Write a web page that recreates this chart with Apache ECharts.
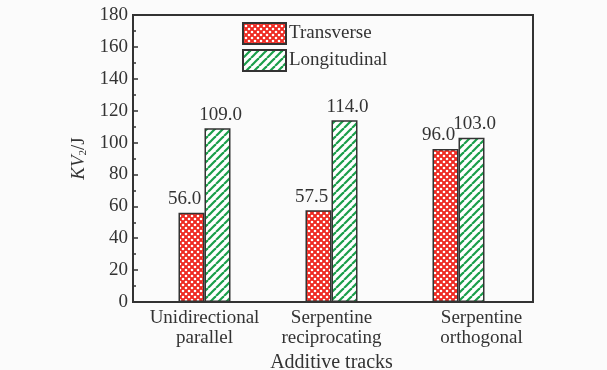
<!DOCTYPE html>
<html>
<head>
<meta charset="utf-8">
<script src="https://cdn.jsdelivr.net/npm/echarts@6/dist/echarts.min.js"></script>
<style>html,body{margin:0;padding:0;background:#fbfbfb;}#c{width:607px;height:370px;}</style>
</head>
<body>
<div id="c"></div>
<script>
var categories = ['Unidirectional\nparallel', 'Serpentine\nreciprocating', 'Serpentine\northogonal'];
var transverse = [56.0, 57.5, 96.0];
var longitudinal = [109.0, 114.0, 103.0];
var yTicks = [0, 20, 40, 60, 80, 100, 120, 140, 160, 180];

function redPattern() {
  var c = document.createElement('canvas');
  c.width = 6; c.height = 6;
  var g = c.getContext('2d');
  g.fillStyle = '#ee2a22'; g.fillRect(0, 0, 6, 6);
  g.fillStyle = '#ffffff';
  [[0,0],[6,0],[0,6],[6,6],[3,3]].forEach(function(p){
    g.beginPath(); g.arc(p[0], p[1], 1.3, 0, Math.PI*2); g.fill();
  });
  return c;
}
function greenPattern() {
  var c = document.createElement('canvas');
  var s = 8;
  c.width = s; c.height = s;
  var g = c.getContext('2d');
  g.fillStyle = '#ffffff'; g.fillRect(0, 0, s, s);
  g.strokeStyle = '#1a9e4a'; g.lineWidth = 2.2;
  [[-s,0],[0,0],[s,0]].forEach(function(o){
    g.beginPath(); g.moveTo(o[0], s); g.lineTo(o[0]+s, 0); g.stroke();
  });
  return c;
}

var FONT = '"Liberation Serif", "Times New Roman", "DejaVu Serif", serif';
var TXT = '#333';
var chart = echarts.init(document.getElementById('c'));
var xData = categories.map(function(v, i){
  return i === 2 ? {value: v, textStyle: {padding: [0, 0, 0, 46]}} : v;
});
chart.setOption({
  backgroundColor: '#fbfbfb',
  animation: false,
  textStyle: {fontFamily: FONT, color: TXT},
  legend: {
    orient: 'vertical', left: 242, top: 22, padding: 0,
    itemWidth: 43, itemHeight: 21, itemGap: 4,
    icon: 'rect',
    textStyle: {fontFamily: FONT, fontSize: 19, color: TXT, padding: [0,0,0,-2]},
    data: ['Transverse', 'Longitudinal']
  },
  grid: [
    {left: 133, top: 15, width: 400, height: 287, outerBoundsMode: 'none', containLabel: false, show: true, borderColor: '#333', borderWidth: 2, backgroundColor: 'transparent'},
    {left: 141, top: 15, width: 381, height: 287, outerBoundsMode: 'none', containLabel: false}
  ],
  xAxis: [
    {gridIndex: 0, type: 'category', data: categories, axisLine: {show: true, lineStyle: {color: '#333', width: 2}}, axisTick: {show: false}, axisLabel: {show: false}},
    {gridIndex: 1, type: 'category', data: xData,
     axisLine: {show: false}, axisTick: {show: false},
     axisLabel: {interval: 0, hideOverlap: false, fontFamily: FONT, fontSize: 19, color: TXT, lineHeight: 20, margin: 6},
     name: 'Additive tracks', nameLocation: 'middle', nameGap: 48,
     nameTextStyle: {fontFamily: FONT, fontSize: 20, color: TXT}}
  ],
  yAxis: [
    {gridIndex: 0, type: 'value', min: 0, max: 180, interval: 20,
     axisLine: {show: true, lineStyle: {color: '#333', width: 2}},
     axisTick: {show: true, inside: true, length: 5, lineStyle: {color: '#333', width: 1.5}},
     minorTick: {show: true, splitNumber: 2, length: 3, lineStyle: {color: '#333', width: 1.5}},
     splitLine: {show: false},
     axisLabel: {fontFamily: FONT, fontSize: 19, color: TXT, margin: 5,
       formatter: function(v){ return yTicks.indexOf(v) >= 0 ? String(v) : ''; }},
     name: '{i|KV}{s|2}{n|/J}', nameLocation: 'middle', nameGap: 39,
     nameTextStyle: {fontFamily: FONT, rich: {
       i: {fontFamily: FONT, fontStyle: 'italic', fontSize: 19, color: TXT},
       s: {fontFamily: FONT, fontSize: 11, color: TXT, padding: [9, 0, 0, 0]},
       n: {fontFamily: FONT, fontSize: 19, color: TXT}
     }}},
    {gridIndex: 1, type: 'value', min: 0, max: 180, show: false}
  ],
  series: [
    {name: 'Transverse', type: 'bar', xAxisIndex: 1, yAxisIndex: 1, data: transverse,
     barWidth: 26, barGap: '0%',
     itemStyle: {color: {image: redPattern(), repeat: 'repeat'}, borderColor: '#333', borderWidth: 1.5},
     label: {show: true, position: 'top', distance: 4, offset: [-7, 0], fontFamily: FONT, fontSize: 19, color: TXT,
       formatter: function(p){ return p.value.toFixed(1); }}},
    {name: 'Longitudinal', type: 'bar', xAxisIndex: 1, yAxisIndex: 1, data: longitudinal,
     barWidth: 26, barGap: '0%',
     itemStyle: {color: {image: greenPattern(), repeat: 'repeat'}, borderColor: '#333', borderWidth: 1.5},
     label: {show: true, position: 'top', distance: 4, offset: [3, 0], fontFamily: FONT, fontSize: 19, color: TXT,
       formatter: function(p){ return p.value.toFixed(1); }}}
  ]
});
</script>
</body>
</html>
